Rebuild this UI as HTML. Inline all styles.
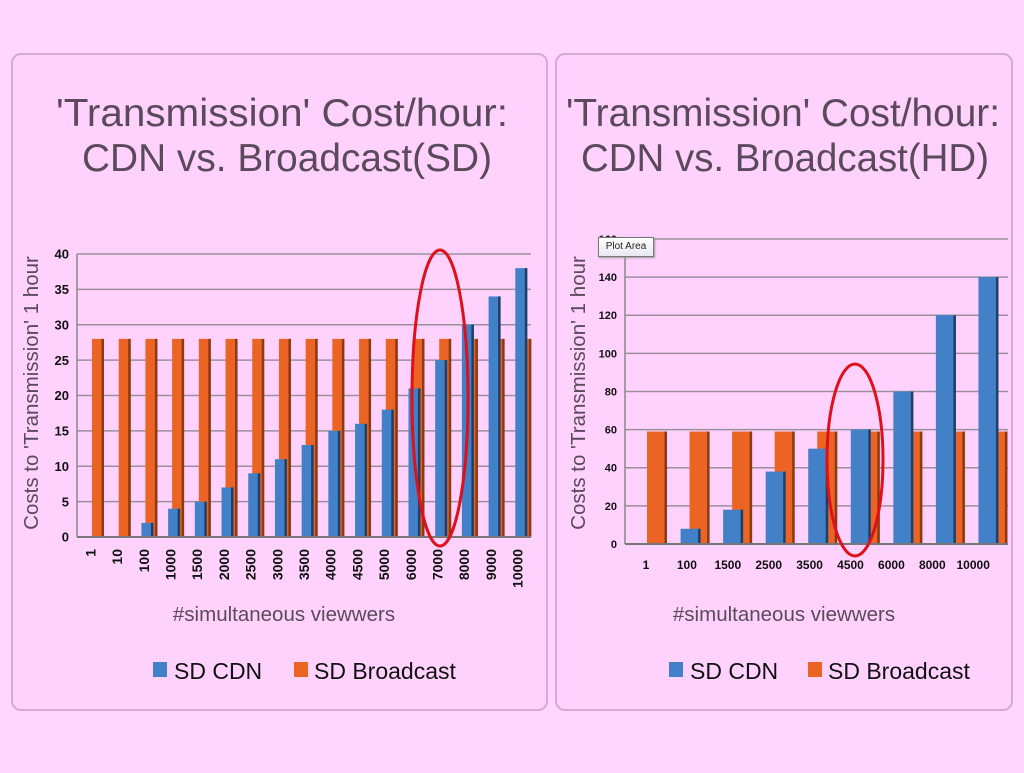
<!DOCTYPE html>
<html><head><meta charset="utf-8"><style>
body{margin:0;width:1024px;height:768px;background:#ffd6fe;overflow:hidden;font-family:"Liberation Sans",sans-serif}
</style></head><body>
<svg id="s" width="1024" height="768" xmlns="http://www.w3.org/2000/svg">
<rect x="12" y="54" width="535" height="656" rx="9" fill="#ffd2fe" stroke="#d8a8d8" stroke-width="2"/>
<rect x="556" y="54" width="456" height="656" rx="9" fill="#ffd2fe" stroke="#d8a8d8" stroke-width="2"/>
<g font-size="39" fill="#5b4a5b" text-anchor="middle">
<text x="282" y="126" textLength="452" lengthAdjust="spacingAndGlyphs">'Transmission' Cost/hour:</text>
<text x="287" y="171" textLength="410" lengthAdjust="spacingAndGlyphs">CDN vs. Broadcast(SD)</text>
<text x="783" y="126" textLength="434" lengthAdjust="spacingAndGlyphs">'Transmission' Cost/hour:</text>
<text x="785" y="171" textLength="408" lengthAdjust="spacingAndGlyphs">CDN vs. Broadcast(HD)</text>
</g>
<g id="L"></g><g id="R"></g>
</svg>
<script>
const sdCats=["1","10","100","1000","1500","2000","2500","3000","3500","4000","4500","5000","6000","7000","8000","9000","10000"];
const sdCdn=[0,0,2,4,5,7,9,11,13,15,16,18,21,25,30,34,38];
const sdBroadcast=[28,28,28,28,28,28,28,28,28,28,28,28,28,28,28,28,28];
const sdTicks=[0,5,10,15,20,25,30,35,40];
const hdCats=["1","100","1500","2500","3500","4500","6000","8000","10000"];
const hdCdn=[0,8,18,38,50,60,80,120,140];
const hdBroadcast=[59,59,59,59,59,59,59,59,59];
const hdTicks=[0,20,40,60,80,100,120,140,160];
const NS="http://www.w3.org/2000/svg";
function mk(p,t,a,txt){const e=document.createElementNS(NS,t);for(const k in a)e.setAttribute(k,a[k]);if(txt!==undefined)e.textContent=txt;p.appendChild(e);return e;}
function chart(g,o){
 const cw=(o.x1-o.x0)/o.cats.length;
 const y=v=>o.y0-(v/o.max)*(o.y0-o.y1);
 o.ticks.forEach(t=>{
  const l=mk(g,'line',{x1:o.x0,x2:o.x1,y1:y(t),y2:y(t),stroke:'#9a8f9a','stroke-width':1.5});
  
  
  const tx=mk(g,'text',{x:o.x0-8,y:y(t)+o.tf/2.8,'text-anchor':'end','font-size':o.tf,'font-weight':'bold',fill:'#111'},t);
  
  
 });
 const ax=mk(g,'line',{x1:o.x0,x2:o.x0,y1:o.y1,y2:o.y0,stroke:'#888','stroke-width':1.5});
 
 
 o.cats.forEach((c,i)=>{
  const cs=o.x0+i*cw;
  [[o.br[i],o.ob,'#ec6424','#8a3a14','broadcast-bar'],[o.cdn[i],o.bb,'#4281c8','#1f3f66','cdn-bar']].forEach(([v,off,col,dk,nm])=>{
   if(v<=0)return;
   const h=o.y0-y(v);
   const r=mk(g,'rect',{x:cs+off[0],y:y(v),width:off[1]-off[0],height:h,fill:col});
   
   
   const d=mk(g,'rect',{x:cs+off[1]-2.5,y:y(v),width:2.5,height:h,fill:dk});
   
   
  });
  let t;
  if(o.rot){const lx=cs+cw/2;t=mk(g,'text',{x:0,y:0,'font-size':14,'font-weight':'bold','text-anchor':'end',fill:'#111',transform:`translate(${lx+5},${o.y0+12}) rotate(-90)`},c);}
  else{const lx=o.lx0+i*o.lstep;t=mk(g,'text',{x:lx,y:o.y0+25,'font-size':12,'font-weight':'bold','text-anchor':'middle',fill:'#111'},c);}
  
  
 });
 const b=mk(g,'line',{x1:o.x0,x2:o.x1,y1:o.y0,y2:o.y0,stroke:'#777','stroke-width':2});
 
 
 const yt=mk(g,'text',{x:0,y:0,'font-size':20.5,fill:'#5b4a5b','text-anchor':'middle',transform:`translate(${o.yx},${o.ym}) rotate(-90)`},"Costs to 'Transmission' 1 hour");
 
 
 const xt=mk(g,'text',{x:o.xtx,y:621,'font-size':20.5,fill:'#5b4a5b','text-anchor':'middle'},'#simultaneous viewwers');
 
 
 const s1=mk(g,'rect',{x:o.lg[0],y:662,width:14,height:15,fill:'#4281c8'});
 
 
 const t1=mk(g,'text',{x:o.lg[0]+21,y:679,'font-size':23,fill:'#111'},'SD CDN');
 
 
 const s2=mk(g,'rect',{x:o.lg[1],y:662,width:14,height:15,fill:'#ec6424'});
 
 
 const t2=mk(g,'text',{x:o.lg[1]+20,y:679,'font-size':23,fill:'#111'},'SD Broadcast');
 
 
 const el=mk(g,'ellipse',{cx:o.el[0],cy:o.el[1],rx:o.el[2],ry:o.el[3],fill:'none',stroke:'#e0101a','stroke-width':3});
 
 
}
chart(document.getElementById('L'),{cats:sdCats,cdn:sdCdn,br:sdBroadcast,ticks:sdTicks,max:40,x0:77,x1:531,y0:537,y1:254,ob:[15,27],bb:[11,23],tf:13,rot:true,yx:38,ym:393,xtx:284,lg:[153,294],el:[440,398,28,148]});
chart(document.getElementById('R'),{cats:hdCats,cdn:hdCdn,br:hdBroadcast,ticks:hdTicks,max:160,x0:625,x1:1008,y0:544,y1:239,ob:[22,42],bb:[13,33],tf:11,rot:false,lx0:646,lstep:40.9,yx:585,ym:393,xtx:784,lg:[669,808],el:[855,460,28,96]});
</script>
<div style="position:absolute;left:598px;top:237px;width:54px;height:18px;background:linear-gradient(#fff,#e8e8f0);border:1px solid #777;font-size:10px;line-height:18px;text-align:center;color:#222;box-shadow:1px 1px 2px #999">Plot Area</div>
</body></html>
